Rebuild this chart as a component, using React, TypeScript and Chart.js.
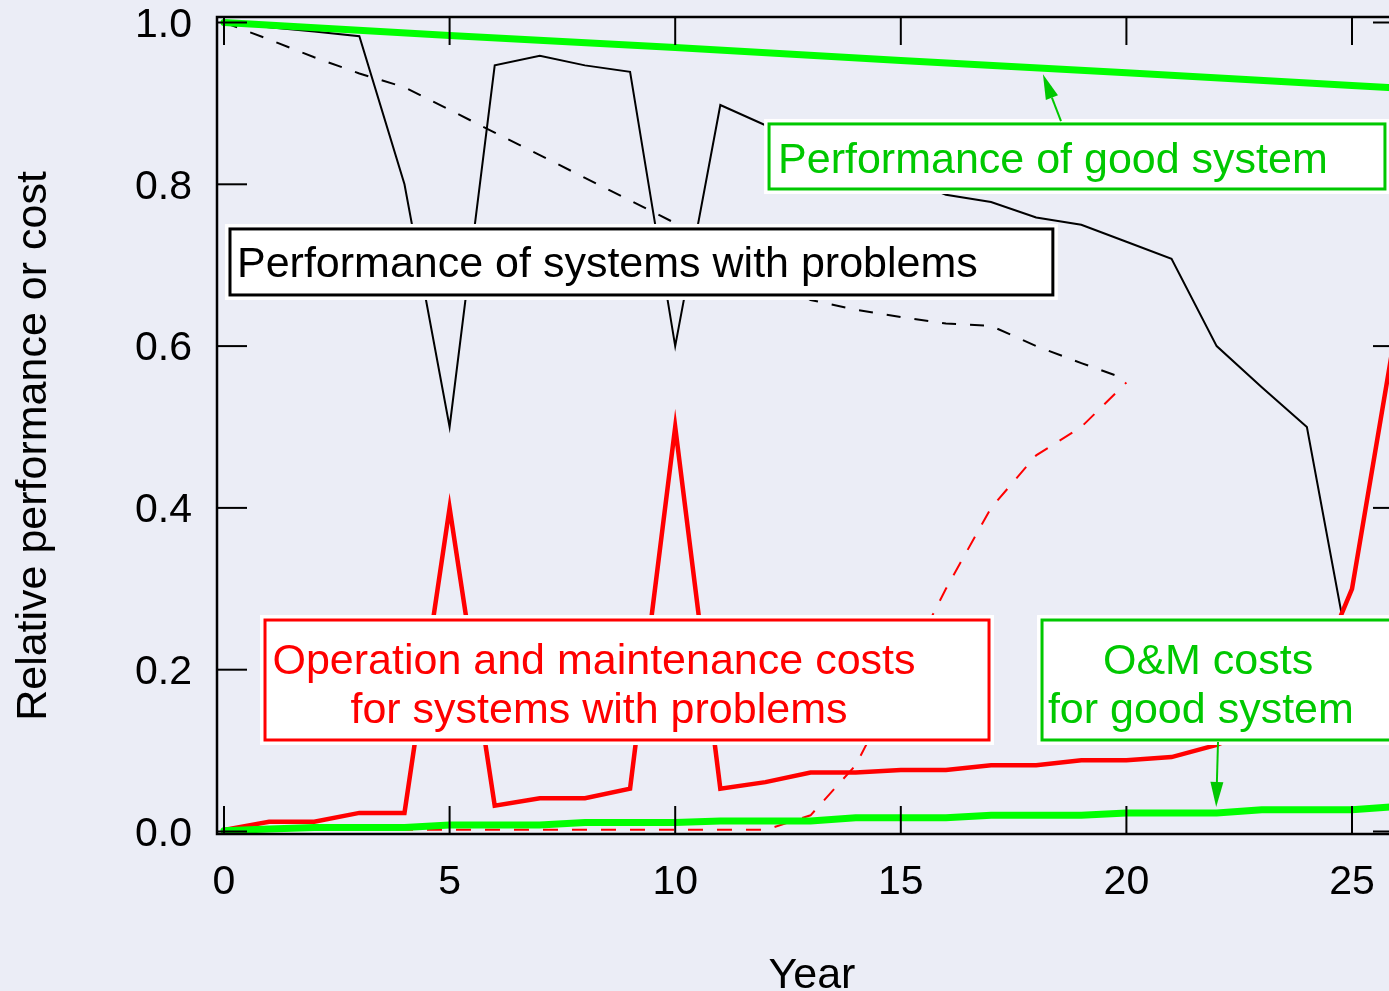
import React, { useEffect, useRef } from "react";
import { Chart, registerables } from "chart.js";

Chart.register(...registerables);

// ---------------- data ----------------
const years = [0, 1, 2, 3, 4, 5, 6, 7, 8, 9, 10, 11, 12, 13, 14, 15, 16, 17, 18, 19, 20, 21, 22, 23, 24, 25, 26];

// Performance of systems with problems (solid black), years 0..25
const perfProblems = [1.0, 0.994, 0.989, 0.983, 0.8, 0.5, 0.947, 0.959, 0.947, 0.939, 0.6, 0.898, 0.873, 0.855, 0.835, 0.81, 0.787, 0.778, 0.759, 0.75, 0.729, 0.708, 0.6, 0.549, 0.5, 0.2];

// Performance trend of systems with problems (dashed black), years 0..20
const perfProblemsTrend = [1.0, 0.979, 0.957, 0.937, 0.92, 0.892, 0.864, 0.836, 0.808, 0.78, 0.752, 0.72, 0.69, 0.657, 0.645, 0.636, 0.628, 0.625, 0.6, 0.579, 0.559];

// O&M costs for systems with problems (solid red), years 0..26
const omProblems = [0.002, 0.012, 0.012, 0.023, 0.023, 0.4, 0.032, 0.041, 0.041, 0.053, 0.5, 0.053, 0.061, 0.073, 0.073, 0.076, 0.076, 0.082, 0.082, 0.088, 0.088, 0.092, 0.107, 0.13, 0.166, 0.3, 0.63];

// O&M cost trend for systems with problems (dashed red), years 0..20
const omProblemsTrend = [0.002, 0.002, 0.002, 0.002, 0.002, 0.002, 0.002, 0.002, 0.002, 0.002, 0.002, 0.002, 0.002, 0.02, 0.082, 0.19, 0.3, 0.4, 0.465, 0.5, 0.555];

// Performance of good system (thick green)
const perfGoodYears = [0, 5, 10, 15, 20, 25, 26];
const perfGood = [1.0, 0.984, 0.969, 0.953, 0.938, 0.922, 0.919];

// O&M costs for good system (thick green), years 0..26
const omGood = [0.001, 0.003, 0.005, 0.005, 0.005, 0.008, 0.008, 0.008, 0.011, 0.011, 0.011, 0.013, 0.013, 0.013, 0.017, 0.017, 0.017, 0.02, 0.02, 0.02, 0.023, 0.023, 0.023, 0.027, 0.027, 0.027, 0.031];

const xTicks = [0, 5, 10, 15, 20, 25];
const yTicks = [0, 0.2, 0.4, 0.6, 0.8, 1.0];

// ---------------- styles / layout ----------------
const BG = "#ebedf6";
const GREEN_LINE = "#00ff00";
const GREEN_TEXT = "#00c800";
const RED = "#ff0000";
const FONT = '"Liberation Sans", Arial, sans-serif';

const CANVAS_W = 1420;
const CANVAS_H = 991;
const AREA_LEFT = 217;
const AREA_TOP = 17;
const AREA_RIGHT_PAD = 17;
const X_AXIS_H = 157;

const X_MIN = -0.155;
const X_MAX = 26.13;
const Y_MIN = -0.0031;
const Y_MAX = 1.0068;

type Line = { text: string; x: number; y: number; align: CanvasTextAlign };
type Box = { left: number; right: number; top: number; bottom: number; color: string; lines: Line[] };

// annotation boxes, in data units (years, relative value)
const boxes: Box[] = [
  {
    left: 12.08, right: 25.73, top: 0.8746, bottom: 0.7942, color: GREEN_TEXT,
    lines: [{ text: "Performance of good system", x: 12.28, y: 0.814, align: "left" }],
  },
  {
    left: 0.133, right: 18.37, top: 0.7448, bottom: 0.6632, color: "#000000",
    lines: [{ text: "Performance of systems with problems", x: 0.288, y: 0.6854, align: "left" }],
  },
  {
    left: 0.909, right: 16.955, top: 0.2614, bottom: 0.1131, color: RED,
    lines: [
      { text: "Operation and maintenance costs", x: 8.2, y: 0.1947, align: "center" },
      { text: "for systems with problems", x: 8.31, y: 0.1347, align: "center" },
    ],
  },
  {
    left: 18.13, right: 26.6, top: 0.2614, bottom: 0.1131, color: GREEN_TEXT,
    lines: [
      { text: "O&M costs", x: 19.48, y: 0.1947, align: "left" },
      { text: "for good system", x: 18.26, y: 0.1347, align: "left" },
    ],
  },
];

const arrows = [
  { x1: 18.55, y1: 0.878, x2: 18.15, y2: 0.936, color: GREEN_TEXT },
  { x1: 22.03, y1: 0.1106, x2: 21.99, y2: 0.0303, color: GREEN_TEXT },
];

const pts = (xs: number[], ys: number[]) => ys.map((v, i) => ({ x: xs[i], y: v }));

const decorPlugin = {
  id: "decor",
  beforeDraw(chart: any) {
    const ctx = chart.ctx;
    ctx.save();
    ctx.fillStyle = BG;
    ctx.fillRect(0, 0, chart.width, chart.height);
    ctx.restore();
  },
  afterDraw(chart: any) {
    const ctx: CanvasRenderingContext2D = chart.ctx;
    const a = chart.chartArea;
    const xs = chart.scales.x;
    const ys = chart.scales.y;
    const seg = (x1: number, y1: number, x2: number, y2: number) => {
      ctx.beginPath();
      ctx.moveTo(x1, y1);
      ctx.lineTo(x2, y2);
      ctx.stroke();
    };
    ctx.save();
    // inward ticks on all four sides
    ctx.strokeStyle = "#000";
    ctx.lineWidth = 2;
    xTicks.forEach((v) => {
      const px = xs.getPixelForValue(v);
      seg(px, a.top, px, a.top + 28);
      seg(px, a.bottom, px, a.bottom - 28);
    });
    yTicks.forEach((v) => {
      const py = ys.getPixelForValue(v);
      seg(a.left, py, a.left + 30, py);
      seg(a.right, py, a.right - 30, py);
    });
    // frame
    ctx.lineWidth = 2.5;
    ctx.strokeRect(a.left, a.top, a.right - a.left, a.bottom - a.top);

    // annotation boxes
    ctx.font = `43px ${FONT}`;
    ctx.textBaseline = "alphabetic";
    boxes.forEach((b) => {
      const l = xs.getPixelForValue(b.left);
      const r = xs.getPixelForValue(b.right);
      const t = ys.getPixelForValue(b.top);
      const bt = ys.getPixelForValue(b.bottom);
      ctx.fillStyle = "#ffffff";
      ctx.fillRect(l - 5, t - 5, r - l + 10, bt - t + 10);
      ctx.strokeStyle = b.color;
      ctx.lineWidth = 3;
      ctx.strokeRect(l, t, r - l, bt - t);
      ctx.fillStyle = b.color;
      b.lines.forEach((ln) => {
        ctx.textAlign = ln.align;
        ctx.fillText(ln.text, xs.getPixelForValue(ln.x), ys.getPixelForValue(ln.y));
      });
    });

    // arrows
    arrows.forEach((ar) => {
      const x1 = xs.getPixelForValue(ar.x1);
      const y1 = ys.getPixelForValue(ar.y1);
      const x2 = xs.getPixelForValue(ar.x2);
      const y2 = ys.getPixelForValue(ar.y2);
      const ang = Math.atan2(y2 - y1, x2 - x1);
      const headLen = 25;
      const halfW = 6.5;
      const bx = x2 - headLen * Math.cos(ang);
      const by = y2 - headLen * Math.sin(ang);
      ctx.strokeStyle = ar.color;
      ctx.fillStyle = ar.color;
      ctx.lineWidth = 2;
      seg(x1, y1, bx, by);
      ctx.beginPath();
      ctx.moveTo(x2, y2);
      ctx.lineTo(bx + halfW * Math.sin(ang), by - halfW * Math.cos(ang));
      ctx.lineTo(bx - halfW * Math.sin(ang), by + halfW * Math.cos(ang));
      ctx.closePath();
      ctx.fill();
    });

    // axis titles
    ctx.fillStyle = "#000";
    ctx.font = `43px ${FONT}`;
    ctx.textAlign = "center";
    ctx.textBaseline = "alphabetic";
    ctx.fillText("Year", (a.left + a.right) / 2 + 2, 988);
    ctx.save();
    ctx.translate(46, 446);
    ctx.rotate(-Math.PI / 2);
    ctx.fillText("Relative performance or cost", 0, 0);
    ctx.restore();

    ctx.restore();
  },
};

export default function App() {
  const ref = useRef<HTMLCanvasElement | null>(null);

  useEffect(() => {
    const canvas = ref.current;
    if (!canvas) return;
    const common = { pointRadius: 0, tension: 0, fill: false, borderJoinStyle: "miter" as const };
    const chart = new Chart(canvas, {
      type: "line",
      data: {
        datasets: [
          { ...common, label: "Performance of good system", data: pts(perfGoodYears, perfGood), borderColor: GREEN_LINE, borderWidth: 7, borderCapStyle: "round", order: 0 },
          { ...common, label: "O&M costs for good system", data: pts(years, omGood), borderColor: GREEN_LINE, borderWidth: 7, borderCapStyle: "round", order: 0 },
          { ...common, label: "O&M costs for systems with problems", data: pts(years, omProblems), borderColor: RED, borderWidth: 4.5, order: 1 },
          { ...common, label: "Performance of systems with problems", data: pts(years, perfProblems), borderColor: "#000000", borderWidth: 2, order: 2 },
          { ...common, label: "O&M cost trend", data: pts(years, omProblemsTrend), borderColor: RED, borderWidth: 2, borderDash: [15, 14], order: 3 },
          { ...common, label: "Performance trend", data: pts(years, perfProblemsTrend), borderColor: "#000000", borderWidth: 2, borderDash: [14, 14], order: 3 },
        ],
      },
      options: {
        responsive: false,
        maintainAspectRatio: false,
        devicePixelRatio: 1,
        animation: false,
        events: [],
        layout: { padding: { left: 0, top: AREA_TOP, right: AREA_RIGHT_PAD, bottom: 0 } },
        plugins: { legend: { display: false }, tooltip: { enabled: false }, title: { display: false } },
        scales: {
          x: {
            type: "linear",
            min: X_MIN,
            max: X_MAX,
            grid: { display: false, drawTicks: false },
            border: { display: false },
            afterBuildTicks: (scale: any) => {
              scale.ticks = xTicks.map((v) => ({ value: v }));
            },
            afterFit: (scale: any) => {
              scale.height = X_AXIS_H;
              scale.paddingLeft = 0;
              scale.paddingRight = 0;
            },
            ticks: {
              autoSkip: false,
              maxRotation: 0,
              minRotation: 0,
              padding: 24,
              color: "#000",
              font: { family: FONT, size: 41, lineHeight: 1.2 },
              callback: (v: any) => String(v),
            },
          },
          y: {
            type: "linear",
            min: Y_MIN,
            max: Y_MAX,
            grid: { display: false, drawTicks: false },
            border: { display: false },
            afterBuildTicks: (scale: any) => {
              scale.ticks = yTicks.map((v) => ({ value: v }));
            },
            afterFit: (scale: any) => {
              scale.width = AREA_LEFT;
              scale.paddingTop = 0;
              scale.paddingBottom = 0;
            },
            ticks: {
              autoSkip: false,
              padding: 25,
              labelOffset: 3,
              color: "#000",
              font: { family: FONT, size: 41, lineHeight: 0.8 },
              callback: (v: any) => Number(v).toFixed(1),
            },
          },
        },
      },
      plugins: [decorPlugin],
    } as any);
    return () => chart.destroy();
  }, []);

  return (
    <div style={{ position: "fixed", left: 0, top: 0, width: 1389, height: 991, overflow: "hidden", background: BG }}>
      <canvas ref={ref} width={CANVAS_W} height={CANVAS_H} style={{ display: "block", width: CANVAS_W, height: CANVAS_H }} />
    </div>
  );
}
